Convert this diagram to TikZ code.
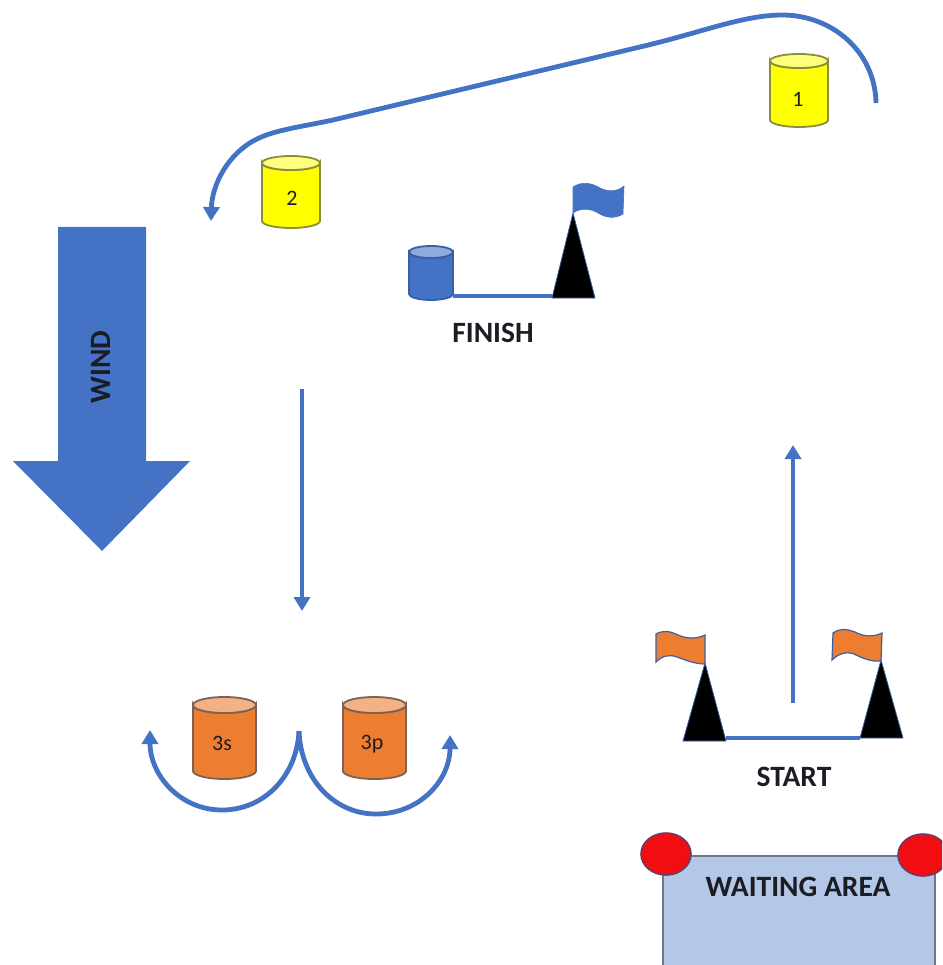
\documentclass[tikz,border=0pt]{standalone}
\usepackage{fontspec}
\setmainfont{Carlito}
\usetikzlibrary{arrows.meta}
\definecolor{bluefill}{HTML}{4472C4}
\definecolor{bluetop}{HTML}{8FAADC}
\definecolor{blueedge}{HTML}{3A5FA8}
\definecolor{orangefill}{HTML}{ED7D31}
\definecolor{orangetop}{HTML}{F4B183}
\definecolor{orangeedge}{HTML}{7A6258}
\definecolor{yellowfill}{HTML}{FFFF00}
\definecolor{yellowtop}{HTML}{FFFF7F}
\definecolor{yellowedge}{HTML}{8C8C3A}
\definecolor{areafill}{HTML}{B4C7E7}
\definecolor{areaedge}{HTML}{6E7687}
\definecolor{redcirc}{HTML}{F20D12}
\definecolor{rededge}{HTML}{6B3A66}
\definecolor{txt}{HTML}{1C1C24}
\tikzset{
  x=1pt,y=-1pt,
  course/.style={draw=bluefill,line width=4.8pt,line cap=butt},
  coursetip/.style={course,-{Triangle[length=14pt,width=16pt]}},
  gateline/.style={draw=bluefill,line width=4pt},
  cone/.style={fill=black,draw=blueedge,line width=.8pt,line join=miter},
  caption/.style={font=\bfseries\fontsize{29.5}{33}\selectfont,text=txt,inner sep=0pt},
  cyllabel/.style={font=\fontsize{22}{26}\selectfont,text=txt,inner sep=0pt},
}
% name, left, right, top, bottom, ry, body, top, edge, label
\newcommand{\barrel}[9]{%
  \coordinate (#1-r) at (#3,#5-#6);
  \coordinate (#1-l) at (#2,#5-#6);
  \draw[fill=#7,draw=#9,line width=1.8pt]
    (#2,#4+#6) -- (#2,#5-#6)
    arc[start angle=180,end angle=0,x radius={(#3-#2)/2},y radius=#6]
    -- (#3,#4+#6)
    arc[start angle=0,end angle=180,x radius={(#3-#2)/2},y radius=#6] -- cycle;
  \draw[fill=#8,draw=#9,line width=1.8pt] ({(#2+#3)/2},#4+#6)
    ellipse[x radius={(#3-#2)/2},y radius=#6];
}
\begin{document}
\begin{tikzpicture}
\useasboundingbox (0,0) rectangle (942,965);
\clip (0,0) rectangle (942,965);

% wind arrow
\fill[bluefill] (58,227) -- (146,227) -- (146,461) -- (190,461) -- (102,551) -- (13,461) -- (58,461) -- cycle;
\node[caption,rotate=90] (wind) at (101,367) {WIND};

% yellow marks
\barrel{one}{770}{828}{54}{127}{7}{yellowfill}{yellowtop}{yellowedge}
\node[cyllabel] (oneL) at (798,99) {1};
\barrel{two}{262}{320}{156}{228}{7}{yellowfill}{yellowtop}{yellowedge}
\node[cyllabel] (twoL) at (292,198) {2};

% course leg 1 to 2
\coordinate (legA) at (876,103);
\coordinate (legB) at (211,221);
\draw[coursetip] (legA)
  .. controls (875,50) and (830,14) .. (780,15)
  .. controls (740,16) and (700,33) .. (640,47)
  -- (333,120)
  .. controls (300,127) and (275,130) .. (257,139)
  .. controls (228,153) and (212,185) .. (legB);

% finish gate
\barrel{fin}{409}{453}{246}{300}{6}{bluefill}{bluetop}{blueedge}
\coordinate (finBaseL) at (552,298);
\coordinate (finBaseR) at (595,298);
\coordinate (finApex) at (573,213);
\draw[gateline] (fin-r |- 0,296) -- (552,296);
\draw[cone] (finBaseL) -- (finApex) -- (finBaseR) -- cycle;
\draw[fill=bluefill,draw=bluefill,line width=.6pt] (finApex)
  -- (573,187)
  .. controls (582,181) and (592,183) .. (600,188)
  .. controls (608,192) and (617,192) .. (624,186)
  -- (623,214)
  .. controls (615,219) and (606,218) .. (598,213)
  .. controls (590,208) and (580,208) .. (finApex) -- cycle;
\node[caption] (finish) at (493,333) {FINISH};

% run downwind
\coordinate (downA) at (302,389);
\coordinate (downB) at (302,611);
\draw[coursetip] (downA) -- (downB);

% gate 3
\barrel{s}{193}{256}{697}{779}{8}{orangefill}{orangetop}{orangeedge}
\node[cyllabel] (sL) at (222,743) {3s};
\barrel{p}{343}{406}{697}{779}{8}{orangefill}{orangetop}{orangeedge}
\node[cyllabel] (pL) at (372,744) {3p};
\coordinate (gateTop) at (299,731);
\coordinate (gateS) at (150,730);
\coordinate (gateP) at (450,735);
\draw[coursetip] (gateTop) .. controls (297,775) and (265,810) .. (222,810)
  .. controls (180,810) and (150,775) .. (gateS);
\draw[coursetip] (gateTop) .. controls (301,780) and (335,814) .. (376,814)
  .. controls (420,814) and (450,780) .. (gateP);

% start gate
\coordinate (startL) at (726,738);
\coordinate (startR) at (860,738);
\draw[gateline] (startL) -- (startR);
\draw[cone] (683,741) -- (705,663) -- (726,741) -- cycle;
\draw[cone] (startR) -- (881,660) -- (903,738) -- cycle;
\draw[fill=orangefill,draw=blueedge,line width=1.2pt] (705,635)
  -- (705,664)
  .. controls (695,664) and (685,660) .. (677,657)
  .. controls (669,654) and (662,656) .. (656,662)
  -- (656,634)
  .. controls (663,630) and (670,631) .. (678,635)
  .. controls (687,639) and (697,639) .. (705,635) -- cycle;
\draw[fill=orangefill,draw=blueedge,line width=1.2pt] (882,633)
  -- (881,661)
  .. controls (871,662) and (862,658) .. (854,654)
  .. controls (846,651) and (838,654) .. (832,660)
  -- (833,633)
  .. controls (840,628) and (848,629) .. (855,632)
  .. controls (864,637) and (874,637) .. (882,633) -- cycle;
\coordinate (upA) at (793,703);
\coordinate (upB) at (793,445);
\draw[coursetip] (upA) -- (upB);
\node[caption] (start) at (794,777) {START};

% waiting area
\draw[fill=areafill,draw=areaedge,line width=2.4pt] (663,975) -- (663,856) -- (935,856) -- (935,975);
\node[caption] (wait) at (798,887) {WAITING AREA};
\draw[fill=redcirc,draw=rededge,line width=1.6pt] (666,854) ellipse[x radius=25,y radius=21];
\draw[fill=redcirc,draw=rededge,line width=1.6pt] (923,855) ellipse[x radius=25,y radius=21];
\end{tikzpicture}
\end{document}
